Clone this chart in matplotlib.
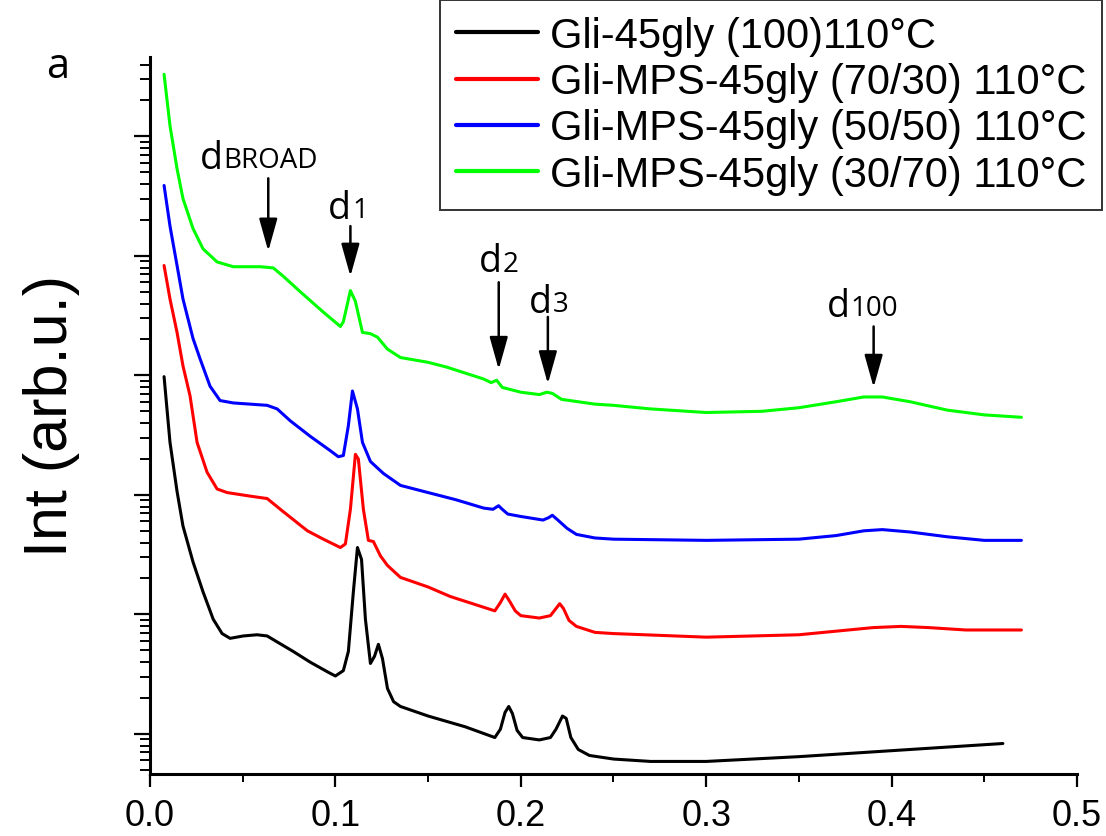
import numpy as np
import matplotlib
matplotlib.use('Agg')
import matplotlib.pyplot as plt
from matplotlib.ticker import LogLocator, NullFormatter, MultipleLocator

# q values (x) and log10 of intensity, per sample
x_black = [0.0076, 0.0108, 0.0146, 0.0178, 0.0232, 0.0286, 0.0341, 0.0389, 0.0432, 0.0503,
           0.0578, 0.0632, 0.0686, 0.0773, 0.0865, 0.0957, 0.100, 0.1043, 0.107, 0.1097,
           0.1119, 0.1141, 0.1162, 0.1189, 0.1211, 0.1232, 0.1254, 0.1281, 0.1314, 0.1351,
           0.150, 0.170, 0.186, 0.189, 0.1915, 0.1935, 0.1955, 0.198, 0.201, 0.210,
           0.216, 0.219, 0.2225, 0.2245, 0.227, 0.231, 0.237, 0.250, 0.270, 0.300,
           0.350, 0.400, 0.460]
lg_black = [2.99, 2.44, 2.03, 1.74, 1.44, 1.19, 0.96, 0.84, 0.80, 0.82,
            0.83, 0.82, 0.77, 0.69, 0.60, 0.52, 0.485, 0.53, 0.69, 1.19,
            1.56, 1.46, 0.96, 0.59, 0.65, 0.75, 0.63, 0.38, 0.27, 0.23,
            0.15, 0.06, -0.03, 0.04, 0.18, 0.23, 0.17, 0.03, -0.03, -0.05,
            -0.03, 0.04, 0.15, 0.13, -0.03, -0.13, -0.18, -0.21, -0.23, -0.23,
            -0.19, -0.14, -0.08]

x_red = [0.0076, 0.0108, 0.0146, 0.0178, 0.0216, 0.0254, 0.0308, 0.0362, 0.0416, 0.0541,
         0.0632, 0.0719, 0.0849, 0.0935, 0.1027, 0.1054, 0.1081, 0.1108, 0.1124, 0.1151,
         0.1178, 0.1205, 0.1243, 0.1281, 0.1351, 0.150, 0.162, 0.180, 0.186, 0.189,
         0.1915, 0.194, 0.197, 0.200, 0.210, 0.216, 0.219, 0.221, 0.223, 0.226,
         0.230, 0.240, 0.250, 0.300, 0.350, 0.370, 0.390, 0.405, 0.420, 0.440,
         0.470]
lg_red = [3.92, 3.64, 3.36, 3.08, 2.83, 2.44, 2.19, 2.05, 2.02, 1.99,
          1.97, 1.86, 1.70, 1.63, 1.56, 1.59, 1.88, 2.34, 2.30, 1.88,
          1.62, 1.61, 1.49, 1.41, 1.31, 1.23, 1.15, 1.06, 1.03, 1.10,
          1.17, 1.11, 1.03, 0.99, 0.97, 0.99, 1.05, 1.09, 1.05, 0.95,
          0.90, 0.85, 0.84, 0.81, 0.83, 0.86, 0.89, 0.90, 0.89, 0.87,
          0.87]

x_blue = [0.0076, 0.0108, 0.0146, 0.0178, 0.0232, 0.027, 0.0324, 0.0378, 0.0449, 0.0632,
          0.0686, 0.0757, 0.0865, 0.0973, 0.1016, 0.1043, 0.107, 0.1092, 0.1119, 0.1146,
          0.1189, 0.1259, 0.1351, 0.150, 0.165, 0.180, 0.185, 0.188, 0.190, 0.193,
          0.200, 0.212, 0.215, 0.217, 0.220, 0.225, 0.230, 0.240, 0.250, 0.300,
          0.350, 0.370, 0.385, 0.395, 0.410, 0.430, 0.450, 0.470]
lg_blue = [4.59, 4.25, 3.92, 3.64, 3.31, 3.14, 2.91, 2.79, 2.77, 2.75,
           2.72, 2.62, 2.49, 2.37, 2.32, 2.33, 2.58, 2.87, 2.72, 2.44,
           2.28, 2.18, 2.08, 2.02, 1.96, 1.89, 1.88, 1.91, 1.88, 1.84,
           1.82, 1.79, 1.81, 1.83, 1.79, 1.72, 1.67, 1.64, 1.63, 1.62,
           1.63, 1.66, 1.70, 1.71, 1.69, 1.65, 1.62, 1.62]

x_green = [0.0076, 0.0108, 0.0146, 0.0178, 0.0232, 0.0286, 0.0362, 0.0449, 0.0595, 0.0665,
           0.0719, 0.0811, 0.0935, 0.1027, 0.1043, 0.1081, 0.1108, 0.1146, 0.1189, 0.1227,
           0.1281, 0.1351, 0.150, 0.160, 0.170, 0.180, 0.184, 0.187, 0.190, 0.195,
           0.200, 0.210, 0.214, 0.217, 0.222, 0.240, 0.250, 0.270, 0.300, 0.330,
           0.350, 0.370, 0.385, 0.395, 0.410, 0.430, 0.450, 0.470]
lg_green = [5.52, 5.09, 4.73, 4.48, 4.23, 4.06, 3.95, 3.91, 3.91, 3.90,
            3.83, 3.70, 3.53, 3.41, 3.45, 3.71, 3.62, 3.36, 3.35, 3.32,
            3.22, 3.15, 3.11, 3.07, 3.02, 2.97, 2.94, 2.96, 2.90, 2.88,
            2.86, 2.84, 2.86, 2.85, 2.80, 2.76, 2.75, 2.72, 2.69, 2.70,
            2.73, 2.78, 2.82, 2.82, 2.78, 2.71, 2.67, 2.65]

labels = ['Gli-45gly (100)110°C',
          'Gli-MPS-45gly (70/30) 110°C',
          'Gli-MPS-45gly (50/50) 110°C',
          'Gli-MPS-45gly (30/70) 110°C']
colors = ['#000000', '#ff0000', '#0000ff', '#00ff00']

# peak markers: label, subscript, arrow x, arrow top / tip (log10 int), text pos
peaks = [('d', 'BROAD', 0.0638, 4.65, 4.04, 0.027, 4.74),
         ('d', '1', 0.1081, 4.25, 3.83, 0.0962, 4.32),
         ('d', '2', 0.1881, 3.78, 3.05, 0.1773, 3.87),
         ('d', '3', 0.2146, 3.49, 2.93, 0.2043, 3.53),
         ('d', '100', 0.3903, 3.41, 2.90, 0.3649, 3.50)]

sans = ['Liberation Sans', 'DejaVu Sans']
anno = ['Open Sans', 'DejaVu Sans']

fig = plt.figure(figsize=(11.06, 8.37), dpi=100)
ax = fig.add_axes([0.1356, 0.0741, 0.8382, 0.8566])

series = [(x_black, lg_black), (x_red, lg_red), (x_blue, lg_blue), (x_green, lg_green)]
for (xs, ls), c, lab in zip(series, colors, labels):
    ax.plot(xs, 10 ** np.array(ls), color=c, lw=2.2, label=lab,
            solid_joinstyle='round', solid_capstyle='round')

ax.set_yscale('log')
ax.set_xlim(0, 0.5)
ax.set_ylim(10 ** -0.335, 10 ** 5.665)

ax.yaxis.set_major_locator(LogLocator(base=10, numticks=20))
ax.yaxis.set_minor_locator(LogLocator(base=10, subs=np.arange(2, 10), numticks=20))
ax.yaxis.set_major_formatter(NullFormatter())
ax.yaxis.set_minor_formatter(NullFormatter())
ax.xaxis.set_major_locator(MultipleLocator(0.1))
ax.xaxis.set_minor_locator(MultipleLocator(0.05))
ax.xaxis.set_major_formatter(lambda v, p: f'{v:.1f}')

for s in ['top', 'right']:
    ax.spines[s].set_visible(False)
for s in ['left', 'bottom']:
    ax.spines[s].set_linewidth(2.2)

ax.tick_params(axis='y', which='major', direction='out', length=11.5, width=1.6)
ax.tick_params(axis='y', which='minor', direction='out', length=7, width=1.4)
ax.tick_params(axis='x', which='major', direction='out', length=9, width=1.6, pad=8)
ax.tick_params(axis='x', which='minor', direction='out', length=6, width=1.4)
for t in ax.get_xticklabels():
    t.set_fontfamily(sans)
    t.set_fontsize(26)

ax.set_ylabel('Int (arb.u.)', fontsize=44, family=sans)
ax.yaxis.set_label_coords(-0.0755, 0.5)

# arrows and peak labels (subscript sits on the same baseline, smaller)
for d, sub, xa, ytop, ytip, xt, yt in peaks:
    ax.annotate('', xy=(xa, 10 ** ytip), xytext=(xa, 10 ** ytop),
                arrowprops=dict(arrowstyle='-|>,head_width=0.28,head_length=1.0',
                                color='black', lw=1.8, shrinkA=0, shrinkB=0,
                                mutation_scale=20))
    t = ax.text(xt, 10 ** yt, d, fontsize=27, family=anno, ha='left', va='baseline')
    ax.annotate(sub, xy=(1, 0), xycoords=t, xytext=(0.5, 7), textcoords='offset points',
                fontsize=20, family=anno, ha='left', va='baseline')

fig.text(46 / 1106, 1 - 78 / 837, 'a', fontsize=30, family=anno, ha='left', va='baseline')

leg = fig.legend(loc='upper right', bbox_to_anchor=(1102 / 1106, 1 - 1 / 837),
                 borderaxespad=0, fancybox=False, edgecolor='black',
                 prop={'family': sans, 'size': 30}, handlelength=1.97,
                 handletextpad=0.27, labelspacing=0.15, borderpad=0.38)
leg.get_frame().set_linewidth(1.4)
for h in leg.get_lines():
    h.set_linewidth(3)

fig.savefig('out.png', dpi=100)
